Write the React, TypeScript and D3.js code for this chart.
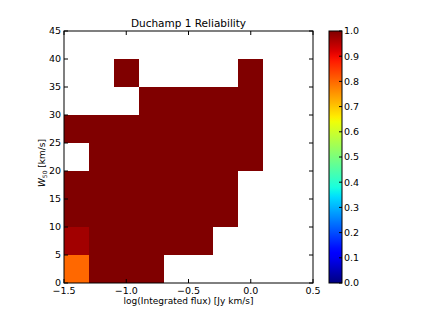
import { useRef, useEffect } from 'react';
import * as d3 from 'd3';

// bin edges
const xEdges = [-1.5, -1.3, -1.1, -0.9, -0.7, -0.5, -0.3, -0.1, 0.1, 0.3, 0.5];
const yEdges = [0, 5, 10, 15, 20, 25, 30, 35, 40, 45];

// reliability per W50 row (bottom to top), one value per flux column; null = empty
const row0 = [0.8, 1, 1, 1, null, null, null, null, null, null];
const row1 = [0.97, 1, 1, 1, 1, 1, null, null, null, null];
const row2 = [1, 1, 1, 1, 1, 1, 1, null, null, null];
const row3 = [1, 1, 1, 1, 1, 1, 1, null, null, null];
const row4 = [null, 1, 1, 1, 1, 1, 1, 1, null, null];
const row5 = [1, 1, 1, 1, 1, 1, 1, 1, null, null];
const row6 = [null, null, null, 1, 1, 1, 1, 1, null, null];
const row7 = [null, null, 1, null, null, null, null, 1, null, null];
const row8 = [null, null, null, null, null, null, null, null, null, null];
const rows = [row0, row1, row2, row3, row4, row5, row6, row7, row8];

const xTicks = [-1.5, -1.0, -0.5, 0.0, 0.5];
const yTicks = [0, 5, 10, 15, 20, 25, 30, 35, 40, 45];
const cTicks = [0, 0.1, 0.2, 0.3, 0.4, 0.5, 0.6, 0.7, 0.8, 0.9, 1.0];

// matplotlib jet
const jetR: [number, number][] = [[0, 0], [0.35, 0], [0.66, 1], [0.89, 1], [1, 0.5]];
const jetG: [number, number][] = [[0, 0], [0.125, 0], [0.375, 1], [0.64, 1], [0.91, 0], [1, 0]];
const jetB: [number, number][] = [[0, 0.5], [0.11, 1], [0.34, 1], [0.65, 0], [1, 0]];
const seg = (pts: [number, number][]) =>
  d3.scaleLinear().domain(pts.map((p) => p[0])).range(pts.map((p) => p[1])).clamp(true);
const sR = seg(jetR), sG = seg(jetG), sB = seg(jetB);
const jet = (v: number) => d3.rgb(sR(v) * 255, sG(v) * 255, sB(v) * 255).formatHex();

const fmt = (d: number) => d3.format('.1f')(d).replace('-', '\u2212');

export default function App() {
  const svgRef = useRef<SVGSVGElement>(null);
  const width = 421, height = 316;
  const ax = { left: 64, right: 313, top: 31, bottom: 283 };
  const cb = { left: 329, right: 342, top: 31, bottom: 283 };

  useEffect(() => {
    const svg = d3.select(svgRef.current);
    svg.selectAll('*').remove();
    const font = 'DejaVu Sans, sans-serif';
    const fs = 9.5;

    const x = d3.scaleLinear().domain([-1.5, 0.5]).range([ax.left, ax.right]);
    const y = d3.scaleLinear().domain([0, 45]).range([ax.bottom, ax.top]);

    // cells
    const cells = svg.append('g').attr('shape-rendering', 'crispEdges');
    rows.forEach((r, ri) => {
      r.forEach((v, ci) => {
        if (v == null) return;
        const x0 = Math.round(x(xEdges[ci])), x1 = Math.round(x(xEdges[ci + 1]));
        const y0 = Math.round(y(yEdges[ri + 1])), y1 = Math.round(y(yEdges[ri]));
        cells.append('rect')
          .attr('x', x0).attr('y', y0)
          .attr('width', x1 - x0).attr('height', y1 - y0)
          .attr('fill', jet(v));
      });
    });

    // frame
    svg.append('rect')
      .attr('x', ax.left).attr('y', ax.top)
      .attr('width', ax.right - ax.left).attr('height', ax.bottom - ax.top)
      .attr('fill', 'none').attr('stroke', '#000').attr('stroke-width', 1);

    const tl = 4;
    xTicks.forEach((t) => {
      const px = x(t);
      svg.append('line').attr('x1', px).attr('x2', px).attr('y1', ax.bottom).attr('y2', ax.bottom - tl).attr('stroke', '#000');
      svg.append('line').attr('x1', px).attr('x2', px).attr('y1', ax.top).attr('y2', ax.top + tl).attr('stroke', '#000');
      svg.append('text').attr('x', px).attr('y', ax.bottom + 11)
        .attr('text-anchor', 'middle').attr('font-family', font).attr('font-size', fs)
        .text(fmt(t));
    });
    yTicks.forEach((t) => {
      const py = y(t);
      svg.append('line').attr('x1', ax.left).attr('x2', ax.left + tl).attr('y1', py).attr('y2', py).attr('stroke', '#000');
      svg.append('line').attr('x1', ax.right).attr('x2', ax.right - tl).attr('y1', py).attr('y2', py).attr('stroke', '#000');
      svg.append('text').attr('x', ax.left - 3).attr('y', py + 3.3)
        .attr('text-anchor', 'end').attr('font-family', font).attr('font-size', fs)
        .text(String(t));
    });

    // title
    svg.append('text').attr('x', (ax.left + ax.right) / 2).attr('y', 27)
      .attr('text-anchor', 'middle').attr('font-family', font).attr('font-size', 10.5)
      .text('Duchamp 1 Reliability');

    // x label
    svg.append('text').attr('x', (ax.left + ax.right) / 2).attr('y', 304)
      .attr('text-anchor', 'middle').attr('font-family', font).attr('font-size', 9)
      .text('log(Integrated flux) [Jy km/s]');

    // y label
    const yl = svg.append('text')
      .attr('transform', `translate(45,163) rotate(-90)`)
      .attr('text-anchor', 'middle').attr('font-family', font).attr('font-size', 9);
    yl.append('tspan').attr('font-style', 'italic').text('W');
    yl.append('tspan').attr('font-size', 6).attr('dy', 2).text('50');
    yl.append('tspan').attr('dy', -2).text('\u00a0[km/s]');

    // colorbar
    const c = d3.scaleLinear().domain([0, 1]).range([cb.bottom, cb.top]);
    const defs = svg.append('defs');
    const grad = defs.append('linearGradient').attr('id', 'jetgrad')
      .attr('x1', 0).attr('y1', 1).attr('x2', 0).attr('y2', 0);
    d3.range(0, 1.0001, 0.02).forEach((v) => {
      grad.append('stop').attr('offset', v).attr('stop-color', jet(v));
    });
    svg.append('rect')
      .attr('x', cb.left).attr('y', cb.top)
      .attr('width', cb.right - cb.left).attr('height', cb.bottom - cb.top)
      .attr('fill', 'url(#jetgrad)').attr('stroke', '#000').attr('stroke-width', 1);
    cTicks.forEach((t) => {
      const py = c(t);
      svg.append('line').attr('x1', cb.right).attr('x2', cb.right - 3).attr('y1', py).attr('y2', py).attr('stroke', '#000');
      svg.append('text').attr('x', cb.right + 2).attr('y', py + 3.3)
        .attr('font-family', font).attr('font-size', fs)
        .text(d3.format('.1f')(t));
    });
  }, []);

  return (
    <svg ref={svgRef} width={width} height={height}
      style={{ position: 'absolute', left: 0, top: 0, background: '#fff' }} />
  );
}
